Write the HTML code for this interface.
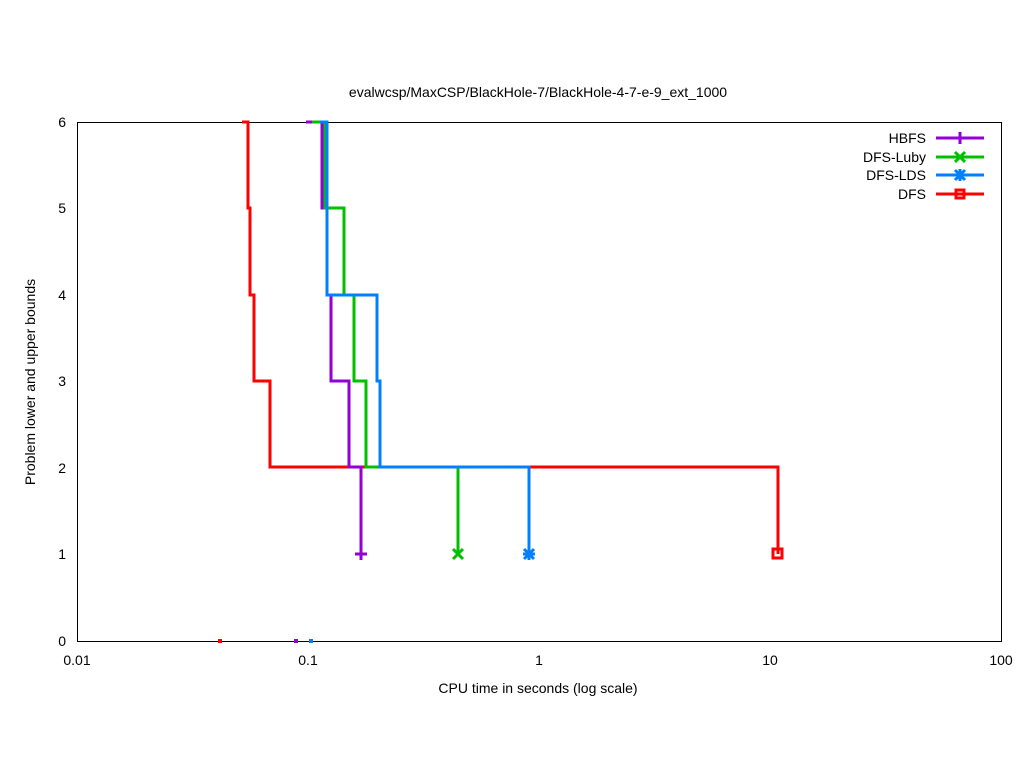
<!DOCTYPE html>
<html><head><style>
body{margin:0;background:#fff;}
svg{display:block;font-family:"Liberation Sans",sans-serif;font-size:14px;}
</style></head><body>
<svg width="1024" height="768" viewBox="0 0 1024 768">
<rect width="1024" height="768" fill="#fff"/>
<g stroke="#000" stroke-width="1" fill="none">
<rect x="77.5" y="122.5" width="924" height="519"/>
</g>
<g id="ticks" stroke="#000" stroke-width="1"></g>
<g fill="#000" text-anchor="end">
<text x="66" y="646">0</text><text x="66" y="559">1</text><text x="66" y="473">2</text><text x="66" y="386">3</text><text x="66" y="300">4</text><text x="66" y="213">5</text><text x="66" y="127">6</text>
</g>
<g fill="#000" text-anchor="middle">
<text x="77" y="665">0.01</text><text x="308" y="665">0.1</text><text x="539" y="665">1</text><text x="770" y="665">10</text><text x="1001" y="665">100</text>
<text x="538" y="693">CPU time in seconds (log scale)</text>
<text x="538" y="97">evalwcsp/MaxCSP/BlackHole-7/BlackHole-4-7-e-9_ext_1000</text>
<text transform="translate(35,382) rotate(-90)">Problem lower and upper bounds</text>
</g>
<g fill="none" stroke-width="3">
<polyline stroke="#ff0000" points="242,122 248,122 248,208 250,208 250,295 254,295 254,381 270,381 270,467 778,467 778,554"/>
<polyline stroke="#9400d3" points="306,122 322,122 322,208 327,208 327,295 331,295 331,381 349,381 349,467 361,467 361,554"/>
<polyline stroke="#00c000" points="312,122 325,122 325,208 344,208 344,295 354,295 354,381 366,381 366,467 458,467 458,554"/>
<polyline stroke="#0080ff" points="320,122 327,122 327,295 377,295 377,381 380,381 380,467 529,467 529,554"/>
</g>
<g stroke-width="3" fill="none">
<path stroke="#9400d3" d="M355 554h12M361 548v12"/>
<path stroke="#00c000" d="M453 549l10 10M463 549l-10 10"/>
<path stroke="#0080ff" d="M524 549l10 10M534 549l-10 10M523 554h12M529 548v12"/>
<rect stroke="#ff0000" x="773" y="549" width="9" height="9"/>
</g>
<g>
<rect x="218" y="639" width="4" height="4" fill="#ff0000"/>
<rect x="294" y="639" width="4" height="4" fill="#9400d3"/>
<rect x="309" y="639" width="4" height="4" fill="#0080ff"/>
</g>
<g text-anchor="end" fill="#000">
<text x="926" y="143">HBFS</text><text x="926" y="162">DFS-Luby</text><text x="926" y="180">DFS-LDS</text><text x="926" y="199">DFS</text>
</g>
<g stroke-width="3" fill="none">
<path stroke="#9400d3" d="M936 138h48"/><path stroke="#00c000" d="M936 157h48"/><path stroke="#0080ff" d="M936 175h48"/><path stroke="#ff0000" d="M936 194h48"/>
</g>
<g stroke-width="3" fill="none">
<path stroke="#9400d3" d="M954 138h12M960 132v12"/>
<path stroke="#00c000" d="M955 152l10 10M965 152l-10 10"/>
<path stroke="#0080ff" d="M955 170l10 10M965 170l-10 10M954 175h12M960 169v12"/>
<rect stroke="#ff0000" x="956" y="190" width="8" height="8"/>
</g>
<script>
var g=document.getElementById('ticks'),s='';
for(var i=0;i<=6;i++){var y=641-i*86.5+0.5;s+='<line x1="77" y1="'+y+'" x2="86" y2="'+y+'"/><line x1="992" y1="'+y+'" x2="1001" y2="'+y+'"/>';}
for(var d=0;d<4;d++){for(var m=1;m<10;m++){var x=77+231*(d+Math.log10(m))+0.5;var L=m==1?9:4;s+='<line x1="'+x+'" y1="641" x2="'+x+'" y2="'+(641-L)+'"/><line x1="'+x+'" y1="122" x2="'+x+'" y2="'+(122+L)+'"/>';}}
s+='<line x1="1001.5" y1="641" x2="1001.5" y2="632"/>';
g.innerHTML=s;
</script>
</svg>
</body></html>
